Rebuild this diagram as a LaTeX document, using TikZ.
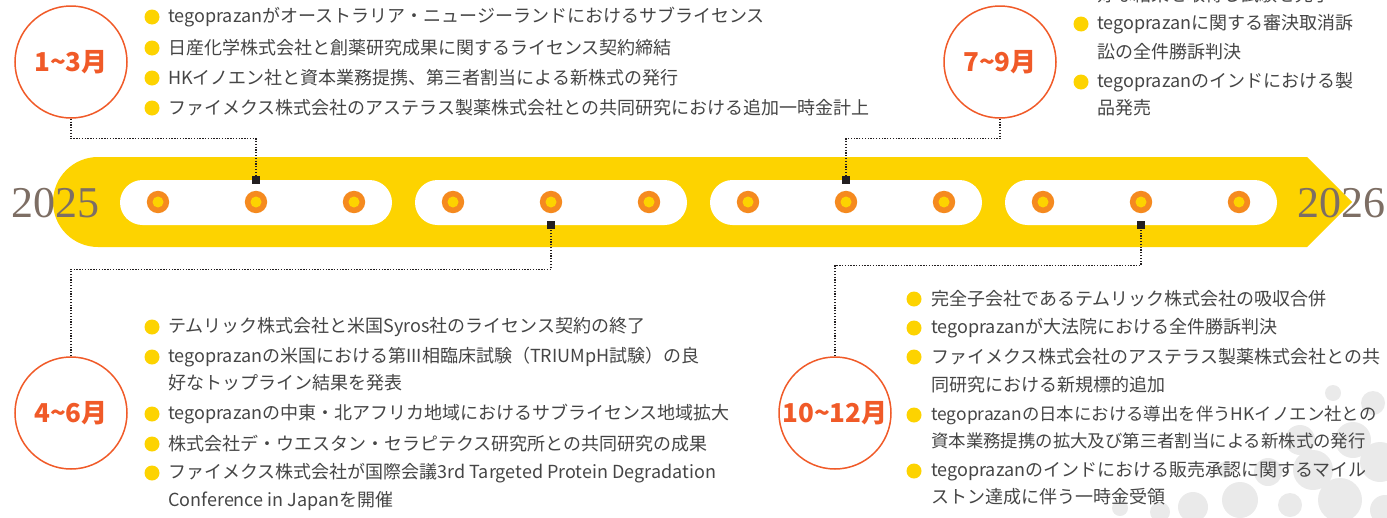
\documentclass[tikz,border=0pt]{standalone}
\usepackage{fontspec}
\newfontfamily\jp{Noto Sans CJK JP}
\newfontfamily\yr{Liberation Serif}
\definecolor{band}{HTML}{FDD300}
\definecolor{ring}{HTML}{F58A1F}
\definecolor{mon}{HTML}{F05A28}
\definecolor{txtc}{HTML}{454545}
\definecolor{yrc}{HTML}{7D6E64}
\definecolor{dotg}{HTML}{EAEAEA}
\definecolor{sqc}{HTML}{231F20}
\begin{document}
\begin{tikzpicture}[x=1pt,y=-1pt,
  month/.style={circle, draw=mon, line width=1.5pt, minimum size=112pt, inner sep=0pt, text=mon, font=\jp\bfseries\fontsize{26}{30}\selectfont},
  sqn/.style={rectangle, fill=sqc, minimum size=8pt, inner sep=0pt},
  conn/.style={draw=sqc, line width=1.4pt, dash pattern=on 1.3pt off 1.5pt},
  txt/.style={anchor=west, inner sep=0pt, text=txtc, font=\jp\fontsize{18}{21}\selectfont},
  txtn/.style={txt, font=\jp\fontsize{17.4}{21}\selectfont},
  yeartxt/.style={text=yrc, font=\yr\fontsize{44}{48}\selectfont, inner sep=0pt},
  pill/.style={fill=white, rounded corners=22.5pt}]
\useasboundingbox (0,0) rectangle (1387,517);
\clip (0,0) rectangle (1387,517);

% decorative gray dots
\foreach \cx/\cy/\r in {1333/393/8, 1373/403/12, 1300/440/15, 1353/440/18, 1380/462/20, 1313/470/20, 1268/472/14, 1240/500/18, 1193/507/15, 1120/508/8, 1340/500/22, 1290/505/12, 1385/510/15, 1160/512/10, 1225/470/8}
  \fill[dotg] (\cx,\cy) circle[radius=\r];

% band
\fill[band] (98,157) -- (1307,157) -- (1352,202) -- (1307,247) -- (98,247) arc[start angle=90, end angle=270, radius=45] -- cycle;

% pills
\foreach \xa in {120,415,710,1005}
  \fill[pill] (\xa,180) rectangle ({\xa+272},225);

% rings
\foreach \xa in {158,453,748,1043}
  \foreach \d in {0,98,196} {
    \fill[ring] ({\xa+\d},202) circle[radius=11.2];
    \fill[band] ({\xa+\d},202) circle[radius=5.5];
  }

% years
\node[yeartxt] (y25) at (56,203) {2025};
\node[yeartxt] (y26) at (1341,203) {2026};

% squares
\node[sqn] (s1) at (256,180) {};
\node[sqn] (s2) at (551,225) {};
\node[sqn] (s3) at (846,180) {};
\node[sqn] (s4) at (1141,225) {};

% month circles
\node[month] (c13) at (71,62) {1\textasciitilde3月};
\node[month] (c79) at (1000,62) {7\textasciitilde9月};
\node[month] (c46) at (71,413) {4\textasciitilde6月};
\node[month] (c1012) at (835,413) {10\textasciitilde12月};

% connectors
\draw[conn] (c13.south) -- ++(0,20) -| (s1.north);
\draw[conn] (c79.south) -- ++(0,20) -| (s3.north);
\draw[conn] (c46.north) -- ++(0,-87) -| (s2.south);
\draw[conn] (c1012.north) -- ++(0,-91) -| (s4.south);

% bullets
\foreach \y in {17,48,78,108,327,357,414,444,473}
  \fill[band] (152,\y) circle[radius=7.5];
\foreach \y in {24,82}
  \fill[band] (1081,\y) circle[radius=7.5];
\foreach \y in {299,328,357,415,471}
  \fill[band] (914,\y) circle[radius=7.5];

% texts 1-3
\node[txt] (a1) at (168,17) {tegoprazanがオーストラリア・ニュージーランドにおけるサブライセンス};
\node[txt] (a2) at (168,48) {日産化学株式会社と創薬研究成果に関するライセンス契約締結};
\node[txt] (a3) at (168,78) {HKイノエン社と資本業務提携、第三者割当による新株式の発行};
\node[txt] (a4) at (168,108) {ファイメクス株式会社のアステラス製薬株式会社との共同研究における追加一時金計上};

% texts 7-9 (first line cut by the top edge, as in the reference)
\node[txt] (b0) at (1097,-5) {好な結果を取得し試験を完了};
\node[txt] (b1) at (1097,24) {tegoprazanに関する審決取消訴};
\node[txt] (b1b) at (1097,52) {訟の全件勝訴判決};
\node[txt] (b2) at (1097,82) {tegoprazanのインドにおける製};
\node[txt] (b2b) at (1097,108) {品発売};

% texts 4-6
\node[txt] (d1) at (168,327) {テムリック株式会社と米国Syros社のライセンス契約の終了};
\node[txt] (d2) at (168,357) {tegoprazanの米国における第III相臨床試験（TRIUMpH試験）の良};
\node[txt] (d2b) at (168,383) {好なトップライン結果を発表};
\node[txt] (d3) at (168,414) {tegoprazanの中東・北アフリカ地域におけるサブライセンス地域拡大};
\node[txt] (d4) at (168,444) {株式会社デ・ウエスタン・セラピテクス研究所との共同研究の成果};
\node[txt] (d5) at (168,473) {ファイメクス株式会社が国際会議3rd Targeted Protein Degradation};
\node[txt] (d5b) at (168,501) {Conference in Japanを開催};

% texts 10-12
\node[txt] (e1) at (931,299) {完全子会社であるテムリック株式会社の吸収合併};
\node[txt] (e2) at (931,328) {tegoprazanが大法院における全件勝訴判決};
\node[txt] (e3) at (931,357) {ファイメクス株式会社のアステラス製薬株式会社との共};
\node[txt] (e3b) at (931,385) {同研究における新規標的追加};
\node[txtn] (e4) at (931,415) {tegoprazanの日本における導出を伴うHKイノエン社との};
\node[txtn] (e4b) at (931,441) {資本業務提携の拡大及び第三者割当による新株式の発行};
\node[txt] (e5) at (931,471) {tegoprazanのインドにおける販売承認に関するマイル};
\node[txt] (e5b) at (931,497) {ストン達成に伴う一時金受領};
\end{tikzpicture}
\end{document}
